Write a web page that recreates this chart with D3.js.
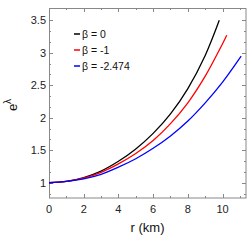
<!DOCTYPE html>
<html>
<head>
<meta charset="utf-8">
<script src="https://cdn.jsdelivr.net/npm/d3@7"></script>
<style>
  body { margin: 0; background: #fff; }
  text { font-family: "Liberation Sans", Arial, sans-serif; }
</style>
</head>
<body>
<div class="canvas"></div>
<script>
// Data: r (km) and e^lambda for each beta
const rBlack = [0, 1, 2, 3, 4, 5, 6, 7, 8, 9, 9.81];
const vBlack = [1, 1.02, 1.08, 1.18, 1.33, 1.52, 1.76, 2.06, 2.45, 2.96, 3.5];
const rRed = [0, 1, 2, 3, 4, 5, 6, 7, 8, 9, 10, 10.24];
const vRed = [1, 1.02, 1.07, 1.16, 1.29, 1.45, 1.65, 1.91, 2.23, 2.64, 3.14, 3.27];
const rBlue = [0, 1, 2, 3, 4, 5, 6, 7, 8, 9, 10, 11.07];
const vBlue = [1, 1.02, 1.06, 1.13, 1.24, 1.37, 1.53, 1.72, 1.95, 2.23, 2.55, 2.95];
const seriesNames = ["β = 0", "β = -1", "β = -2.474"];
const seriesColors = ["#000000", "#ff0000", "#0000ff"];
const xTicks = [0, 2, 4, 6, 8, 10];
const yTicks = [1, 1.5, 2, 2.5, 3, 3.5];

const dims = { width: 252, height: 243 };
const margin = { left: 49, right: 6, top: 8, bottom: 45 };
const w = dims.width - margin.left - margin.right;
const h = dims.height - margin.top - margin.bottom;

const svg = d3
  .select(".canvas")
  .append("svg")
  .attr("width", dims.width)
  .attr("height", dims.height);

const graph = svg
  .append("g")
  .attr("transform", `translate(${margin.left}, ${margin.top})`);

const x = d3.scaleLinear().domain([0, 11.35]).range([0, w]);
const y = d3.scaleLinear().domain([0.765, 3.69]).range([h, 0]);

const axisCol = "#888";

// minor ticks
const xMinor = d3.range(0, 11.01, 1).filter((d) => d % 2 !== 0);
const yMinor = d3.range(0, 18).map((i) => 0.5 + i / 6).filter((d) => d > 0.77 && d < 3.68 && Math.abs(d * 2 - Math.round(d * 2)) > 0.01);

const tickLayer = graph.append("g").attr("stroke", axisCol).attr("stroke-width", 1);
const addX = (vals, len) => {
  vals.forEach((d) => {
    const px = Math.round(x(d)) + 0.5;
    tickLayer.append("line").attr("x1", px).attr("x2", px).attr("y1", h).attr("y2", h - len);
    tickLayer.append("line").attr("x1", px).attr("x2", px).attr("y1", 0).attr("y2", len);
  });
};
const addY = (vals, len) => {
  vals.forEach((d) => {
    const py = Math.round(y(d)) + 0.5;
    tickLayer.append("line").attr("y1", py).attr("y2", py).attr("x1", 0).attr("x2", len);
    tickLayer.append("line").attr("y1", py).attr("y2", py).attr("x1", w).attr("x2", w - len);
  });
};
addX(xTicks, 4);
addX(xMinor, 2);
addY(yTicks, 4);
addY(yMinor, 2);

// frame
graph
  .append("rect")
  .attr("x", 0.5)
  .attr("y", 0.5)
  .attr("width", w - 0.5)
  .attr("height", h - 0.5)
  .attr("fill", "none")
  .attr("stroke", axisCol);

// tick labels
graph
  .selectAll(".xl")
  .data(xTicks)
  .enter()
  .append("text")
  .attr("x", (d) => x(d))
  .attr("y", h + 15)
  .attr("text-anchor", "middle")
  .attr("font-size", 11)
  .attr("fill", "#222")
  .text((d) => d);

graph
  .selectAll(".yl")
  .data(yTicks)
  .enter()
  .append("text")
  .attr("x", -3)
  .attr("y", (d) => y(d) + 4)
  .attr("text-anchor", "end")
  .attr("font-size", 11)
  .attr("fill", "#222")
  .text((d) => d);

// curves
const series = [
  { r: rBlack, v: vBlack },
  { r: rRed, v: vRed },
  { r: rBlue, v: vBlue },
];
const line = d3
  .line()
  .x((d) => x(d[0]))
  .y((d) => y(d[1]))
  .curve(d3.curveCatmullRom);

series.forEach((s, i) => {
  graph
    .append("path")
    .attr("d", line(s.r.map((r, j) => [r, s.v[j]])))
    .attr("fill", "none")
    .attr("stroke", seriesColors[i])
    .attr("stroke-width", 1.3);
});

// legend
const legend = svg.append("g").attr("transform", "translate(74, 34)");
seriesNames.forEach((name, i) => {
  legend
    .append("line")
    .attr("x1", 0)
    .attr("x2", 6)
    .attr("y1", i * 16)
    .attr("y2", i * 16)
    .attr("stroke", seriesColors[i])
    .attr("stroke-width", 1.5);
  legend
    .append("text")
    .attr("x", 8)
    .attr("y", i * 16 + 4)
    .attr("font-size", 10.5)
    .attr("fill", "#111")
    .text(name);
});

// axis titles
svg
  .append("text")
  .attr("x", margin.left + w / 2)
  .attr("y", 232)
  .attr("text-anchor", "middle")
  .attr("font-size", 13)
  .attr("fill", "#111")
  .text("r (km)");

const yl = svg
  .append("text")
  .attr("transform", "translate(17, 105) rotate(-90)")
  .attr("text-anchor", "middle")
  .attr("font-size", 13)
  .attr("fill", "#111");
yl.append("tspan").text("e");
yl.append("tspan").attr("dy", -6).attr("font-size", 10).text("λ");
</script>
</body>
</html>
